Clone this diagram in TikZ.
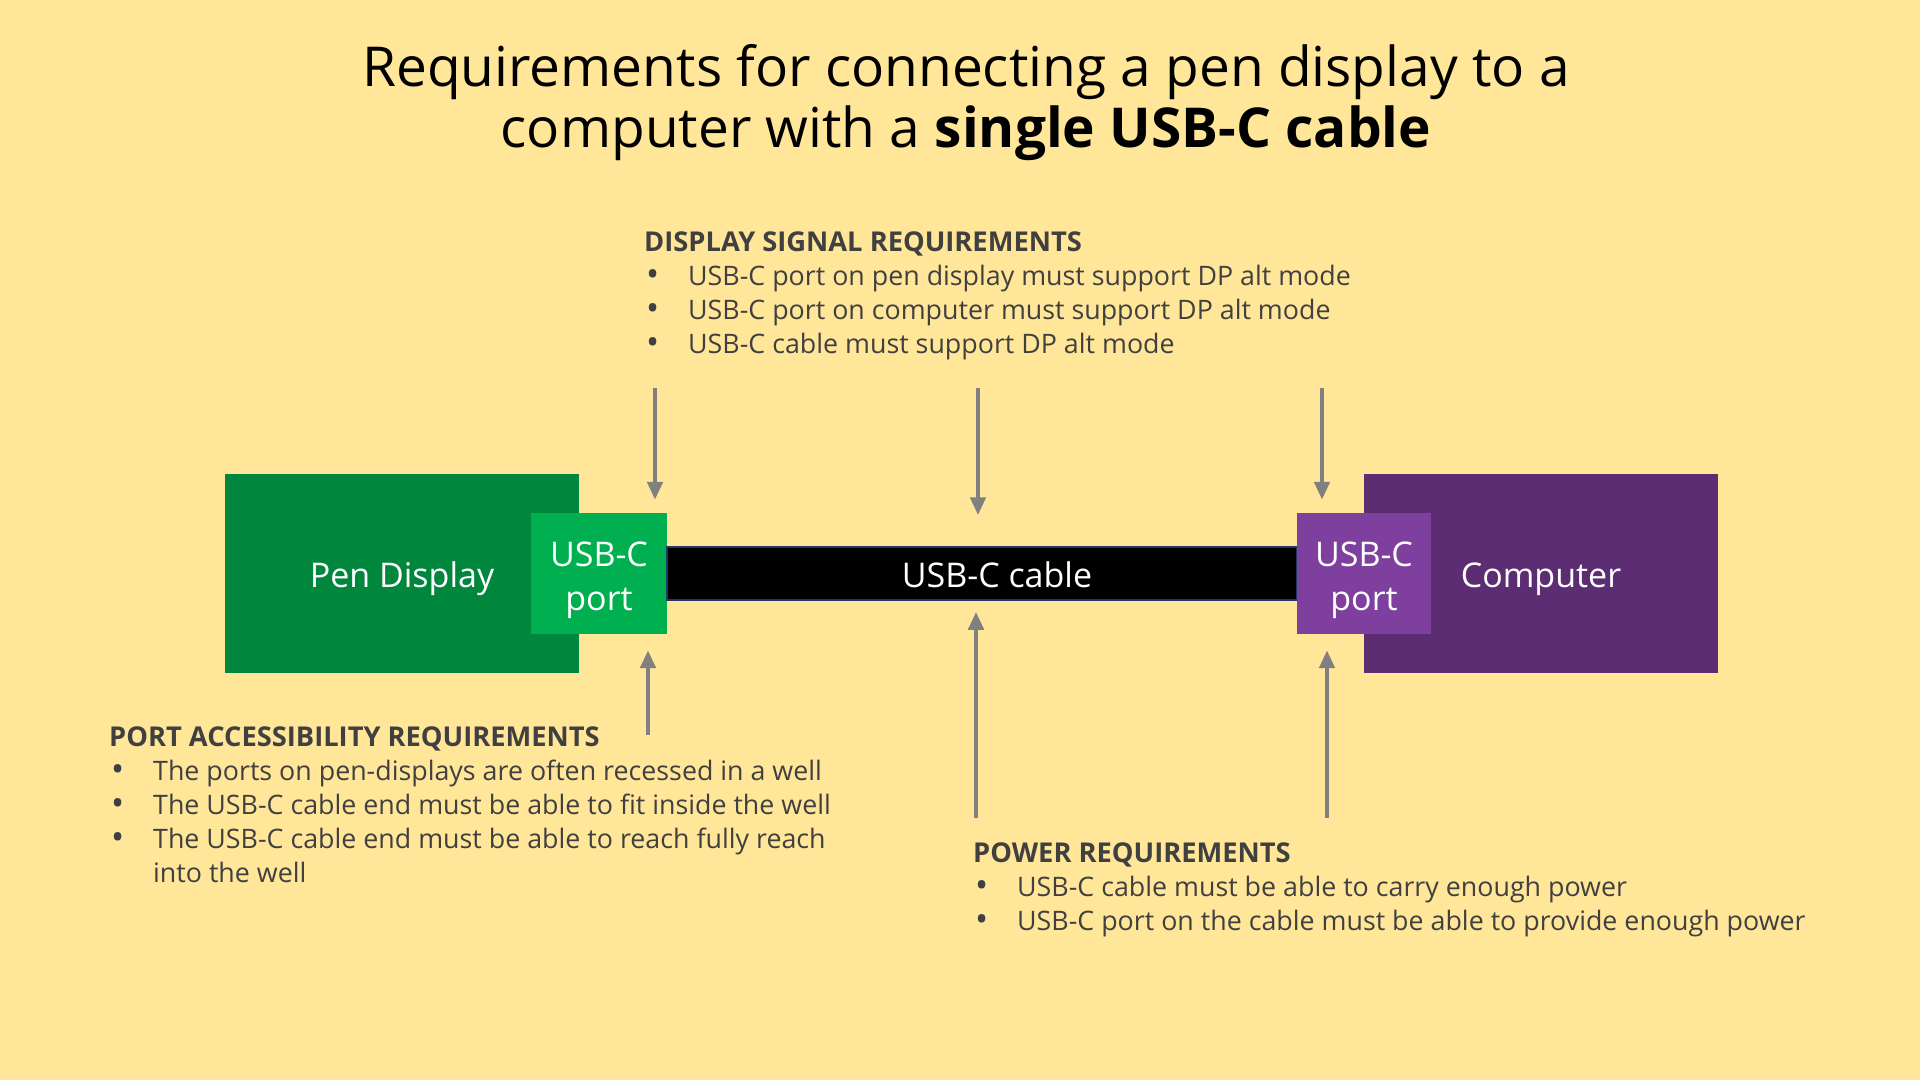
\documentclass[tikz,border=0pt]{standalone}
\usepackage{fontspec}
\setmainfont{Open Sans}
\usepackage{xcolor}
\usetikzlibrary{arrows.meta,positioning}

\definecolor{slidebg}{HTML}{FFE699}
\definecolor{pengreen}{HTML}{00873D}
\definecolor{portgreen}{HTML}{00B050}
\definecolor{pcpurple}{HTML}{5C2D72}
\definecolor{portpurple}{HTML}{7F3F9F}
\definecolor{cablenavy}{HTML}{1F3864}
\definecolor{reqgrey}{HTML}{808080}
\definecolor{reqtext}{HTML}{404040}

\newcommand{\reqitem}[1]{\makebox[44pt][l]{\hspace{2pt}\raisebox{-1pt}{\scalebox{1.3}{\textbullet}}}#1}
\newcommand{\reqhead}[1]{{\fontsize{27.3}{34}\selectfont\bfseries #1}}

\begin{document}
\begin{tikzpicture}[x=1pt,y=-1pt,
  devbox/.style={inner sep=0,text=white,font=\fontsize{34}{44}\selectfont,align=center,text height=28pt,text depth=0pt},
  portbox/.style={devbox,text height=73pt},
  reqarrow/.style={draw=reqgrey,line width=4.5pt,-{Triangle[width=15pt,length=18pt]}},
  reqblock/.style={anchor=base west,inner sep=0,text=reqtext,align=left,font=\fontsize{26.8}{34}\selectfont}]
\fill[slidebg] (0,0) rectangle (1920,1080);
\useasboundingbox (0,0) rectangle (1920,1080);

% title (base = last line)
\node[anchor=base,align=center,font=\fontsize{55}{61}\selectfont] (title) at (966,147)
  {Requirements for connecting a pen display to a\\ computer with a \textbf{single USB-C cable}};

% devices and cable
\node[devbox,fill=pengreen,minimum width=354,minimum height=199] (pen) at (402,573.5) {Pen Display};
\node[portbox,fill=portgreen,minimum width=136,minimum height=121] (pport) at (599,573.5) {USB-C\\port};
\node[devbox,fill=black,draw=cablenavy,line width=1.5pt,minimum width=630,minimum height=53] (cable) at (982,573.5) {\hspace*{30pt}USB-C cable};
\node[devbox,fill=pcpurple,minimum width=354,minimum height=199] (pc) at (1541,573.5) {Computer};
\node[portbox,fill=portpurple,minimum width=134,minimum height=121] (cport) at (1364,573.5) {USB-C\\port};

% arrow tails
\coordinate (dsA) at (655,388);
\coordinate (dsB) at (978,388);
\coordinate (dsC) at (1322,388);
\coordinate (paA) at (648,735);
\coordinate (pwA) at (976,818);
\coordinate (pwB) at (1327,818);

\draw[reqarrow,shorten >=13pt] (dsA) -- (dsA |- pport.north);
\draw[reqarrow,shorten >=31pt] (dsB) -- (dsB |- cable.north);
\draw[reqarrow,shorten >=13pt] (dsC) -- (dsC |- cport.north);
\draw[reqarrow,shorten >=16pt] (paA) -- (paA |- pport.south);
\draw[reqarrow,shorten >=11pt] (pwA) -- (pwA |- cable.south);
\draw[reqarrow,shorten >=16pt] (pwB) -- (pwB |- cport.south);

% requirement texts (base = last line)
\node[reqblock] (dsreq) at (644,353.5) {\reqhead{DISPLAY SIGNAL REQUIREMENTS}\\
  \reqitem{USB-C port on pen display must support DP alt mode}\\
  \reqitem{USB-C port on computer must support DP alt mode}\\
  \reqitem{USB-C cable must support DP alt mode}};
\node[reqblock] (pareq) at (109,882.5) {\reqhead{PORT ACCESSIBILITY REQUIREMENTS}\\
  \reqitem{The ports on pen-displays are often recessed in a well}\\
  \reqitem{The USB-C cable end must be able to fit inside the well}\\
  \reqitem{The USB-C cable end must be able to reach fully reach}\\
  \hspace*{44pt}into the well};
\node[reqblock] (pwreq) at (973,930.5) {\reqhead{POWER REQUIREMENTS}\\
  \reqitem{USB-C cable must be able to carry enough power}\\
  \reqitem{USB-C port on the cable must be able to provide enough power}};
\end{tikzpicture}
\end{document}
